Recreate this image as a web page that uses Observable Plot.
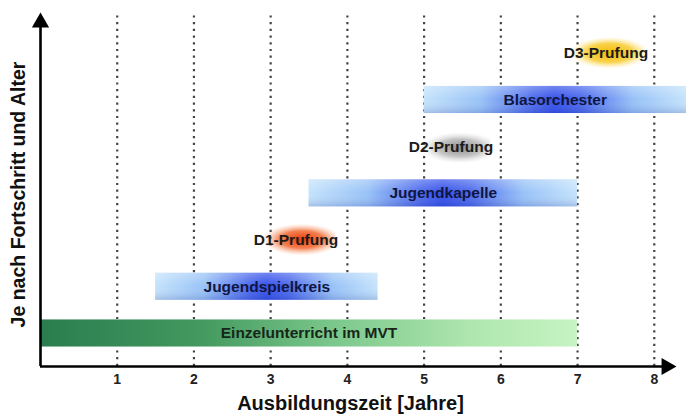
<!DOCTYPE html>
<html><head><meta charset="utf-8">
<script src="https://cdn.jsdelivr.net/npm/d3@7"></script>
<script src="https://cdn.jsdelivr.net/npm/@observablehq/plot@0.6"></script>
<style>html,body{margin:0;padding:0;background:#fff;}</style>
</head><body><div id="chart"></div>
<script>
// ---- data ----
const barNames = ["Einzelunterricht im MVT", "Jugendspielkreis", "Jugendkapelle", "Blasorchester"];
const barStart = [0, 1.5, 3.5, 5];
const barEnd = [7, 4.4, 7, 8.42];
const barRow = [0, 1, 3, 5];
const barKind = ["green", "blue", "blue", "blue"];
const examNames = ["D1-Prufung", "D2-Prufung", "D3-Prufung"];
const examAt = [3.33, 5.35, 7.37];
const examRow = [2, 4, 6];
const examKind = ["orange", "gray", "yellow"];
const yearTicks = [1, 2, 3, 4, 5, 6, 7, 8];
const xLabel = "Ausbildungszeit [Jahre]";
const yLabel = "Je nach Fortschritt und Alter";

// ---- layout constants ----
const X_MAX = 8.42, Y_MIN = -0.707, Y_MAX = 7.13;
const Y_ARROW = 6.66, X_ARROW = 8.16, DASH_TOP = 6.87;
const BAR_H = 0.29, EXAM_W = 0.52, EXAM_H = 0.34;

const bars = barNames.map((name, i) => ({name, start: barStart[i], end: barEnd[i], row: barRow[i], kind: barKind[i]}));
const exams = examNames.map((name, i) => ({name, at: examAt[i], row: examRow[i], kind: examKind[i]}));
const gradId = {green: "url(#gradGreen)", blue: "url(#gradBlue)", orange: "url(#gradOrange)", gray: "url(#gradGray)", yellow: "url(#gradYellow)"};
const textColor = {green: "#17261a", blue: "#10163f"};

const chart = Plot.plot({
  width: 686, height: 415,
  marginLeft: 40, marginRight: 0, marginTop: 0, marginBottom: 49,
  x: {domain: [0, X_MAX], axis: null},
  y: {domain: [Y_MIN, Y_MAX], axis: null},
  color: {type: "identity"},
  style: {fontFamily: "'Liberation Sans', Arial, sans-serif", background: "white", overflow: "visible"},
  marks: [
    Plot.ruleX(yearTicks, {x: d => d, y1: Y_MIN, y2: DASH_TOP, stroke: "#444", strokeWidth: 2.2, strokeDasharray: "2.2,4.5"}),
    Plot.rect(bars, {x1: "start", x2: "end", y1: d => d.row - BAR_H, y2: d => d.row + BAR_H, fill: d => gradId[d.kind]}),
    Plot.rect(bars.filter(d => d.kind === "blue"), {x1: "start", x2: "end", y1: d => d.row - BAR_H, y2: d => d.row + BAR_H, fill: "url(#gradShade)"}),
    Plot.rect(exams, {x1: d => d.at - EXAM_W, x2: d => d.at + EXAM_W, y1: d => d.row - EXAM_H, y2: d => d.row + EXAM_H, fill: d => gradId[d.kind]}),
    Plot.text(bars, {x: d => (d.start + d.end) / 2, y: "row", text: "name", fontSize: 15.5, fontWeight: "bold", fill: d => textColor[d.kind]}),
    Plot.text(exams, {x: "at", y: "row", text: "name", fontSize: 15.5, fontWeight: "bold", fill: "#1b1b1b"}),
    Plot.ruleY([Y_MIN], {x1: 0, x2: X_ARROW, stroke: "black", strokeWidth: 2.6}),
    Plot.ruleX([0], {y1: Y_MIN, y2: Y_ARROW, stroke: "black", strokeWidth: 2.6}),
    Plot.dot([{x: 0, y: Y_ARROW, rot: 0}, {x: X_ARROW, y: Y_MIN, rot: 90}], {x: "x", y: "y", rotate: "rot", symbol: "triangle", r: 6.4, fill: "black", stroke: "none"}),
    Plot.axisX(yearTicks, {tickSize: 0, tickPadding: 8, fontSize: 14, fontWeight: "bold", fill: "#222", label: null}),
    Plot.text([xLabel], {text: d => d, frameAnchor: "bottom", lineAnchor: "middle", textAnchor: "middle", dy: 37, dx: -13, fontSize: 20, fontWeight: "bold", fill: "#111"}),
    Plot.text([yLabel], {text: d => d, frameAnchor: "left", textAnchor: "middle", lineAnchor: "middle", dx: -22, dy: 11, rotate: -90, fontSize: 19.5, fontWeight: "bold", fill: "#111"})
  ]
});

const svg = chart.tagName.toLowerCase() === "svg" ? chart : chart.querySelector("svg");
const defs = document.createElementNS("http://www.w3.org/2000/svg", "defs");
defs.innerHTML = `
<linearGradient id="gradGreen" x1="0" x2="1" y1="0" y2="0">
  <stop offset="0" stop-color="#2a7c4e"/>
  <stop offset="0.3" stop-color="#43995f"/>
  <stop offset="0.55" stop-color="#7cc88c"/>
  <stop offset="0.8" stop-color="#aee6ae"/>
  <stop offset="1" stop-color="#c6f4c2"/>
</linearGradient>
<linearGradient id="gradBlue" x1="0" x2="1" y1="0" y2="0">
  <stop offset="0" stop-color="#c4e3fb"/>
  <stop offset="0.22" stop-color="#98c2f7"/>
  <stop offset="0.42" stop-color="#4a68ec"/>
  <stop offset="0.5" stop-color="#3450ea"/>
  <stop offset="0.6" stop-color="#4a68ec"/>
  <stop offset="0.8" stop-color="#98c2f7"/>
  <stop offset="1" stop-color="#c4e3fb"/>
</linearGradient>
<linearGradient id="gradShade" x1="0" x2="0" y1="0" y2="1">
  <stop offset="0" stop-color="#ffffff" stop-opacity="0.3"/>
  <stop offset="0.5" stop-color="#ffffff" stop-opacity="0"/>
  <stop offset="1" stop-color="#10208a" stop-opacity="0.18"/>
</linearGradient>
<radialGradient id="gradOrange" cx="0.58" cy="0.5" r="0.5">
  <stop offset="0" stop-color="#ec3606" stop-opacity="1"/>
  <stop offset="0.55" stop-color="#f26a32" stop-opacity="0.85"/>
  <stop offset="1" stop-color="#fbb08a" stop-opacity="0"/>
</radialGradient>
<radialGradient id="gradGray" cx="0.62" cy="0.55" r="0.5">
  <stop offset="0" stop-color="#8a8a8a" stop-opacity="1"/>
  <stop offset="0.55" stop-color="#b4b4b4" stop-opacity="0.8"/>
  <stop offset="1" stop-color="#e0e0e0" stop-opacity="0"/>
</radialGradient>
<radialGradient id="gradYellow" cx="0.55" cy="0.5" r="0.5">
  <stop offset="0" stop-color="#f4b800" stop-opacity="1"/>
  <stop offset="0.6" stop-color="#f8cc30" stop-opacity="0.85"/>
  <stop offset="1" stop-color="#fde58a" stop-opacity="0"/>
</radialGradient>`;
svg.insertBefore(defs, svg.firstChild);
document.getElementById("chart").appendChild(chart);
</script>
</body></html>
